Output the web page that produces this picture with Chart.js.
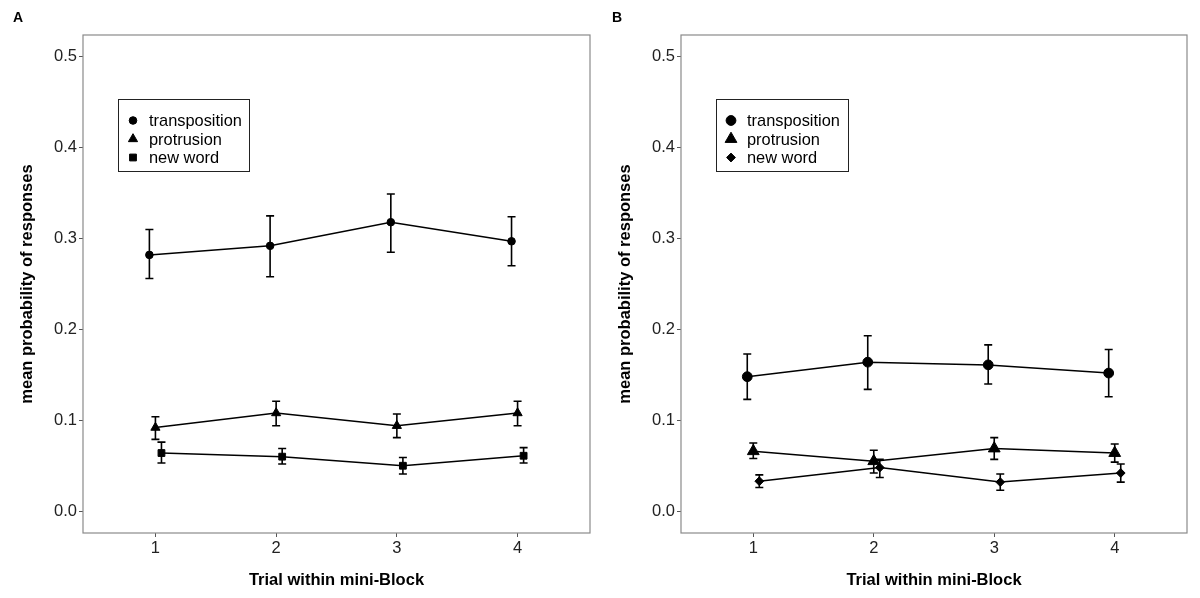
<!DOCTYPE html>
<html>
<head>
<meta charset="utf-8">
<script src="https://cdn.jsdelivr.net/npm/chart.js@4.4.1/dist/chart.umd.min.js"></script>
<style>
  body { margin: 0; background: #fff; }
  #wrapA { position: absolute; left: 0; top: 0; width: 598px; height: 598px; }
  #wrapB { position: absolute; left: 598px; top: 0; width: 602px; height: 598px; }
</style>
</head>
<body>
<div id="wrapA"><canvas id="chartA"></canvas></div>
<div id="wrapB"><canvas id="chartB"></canvas></div>
<script>
var trials = [1, 2, 3, 4];
var seriesNames = ['transposition', 'protrusion', 'new word'];
var yTicks = [0.0, 0.1, 0.2, 0.3, 0.4, 0.5];

// panel A
var aTransMean = [0.282, 0.292, 0.318, 0.297];
var aTransLow  = [0.256, 0.258, 0.285, 0.270];
var aTransHigh = [0.310, 0.325, 0.349, 0.324];
var aProtMean  = [0.092, 0.108, 0.094, 0.108];
var aProtLow   = [0.079, 0.094, 0.081, 0.094];
var aProtHigh  = [0.104, 0.121, 0.107, 0.121];
var aNewMean   = [0.064, 0.060, 0.050, 0.061];
var aNewLow    = [0.053, 0.052, 0.041, 0.053];
var aNewHigh   = [0.076, 0.069, 0.059, 0.070];

// panel B
var bTransMean = [0.148, 0.164, 0.161, 0.152];
var bTransLow  = [0.123, 0.134, 0.140, 0.126];
var bTransHigh = [0.173, 0.193, 0.183, 0.178];
var bProtMean  = [0.066, 0.055, 0.069, 0.064];
var bProtLow   = [0.058, 0.042, 0.057, 0.054];
var bProtHigh  = [0.075, 0.067, 0.081, 0.074];
var bNewMean   = [0.033, 0.048, 0.032, 0.042];
var bNewLow    = [0.026, 0.037, 0.023, 0.032];
var bNewHigh   = [0.040, 0.057, 0.041, 0.052];

var FONT = '"Liberation Sans", Arial, sans-serif';
var dodge = [-0.05, 0, 0.05];

function makeSet(idx, mean, low, high, style, radius) {
    var pts = [];
    for (var i = 0; i < trials.length; i++) {
        pts.push({x: trials[i] + dodge[idx], y: mean[i], low: low[i], high: high[i]});
    }
    return {
        label: seriesNames[idx],
        data: pts,
        borderColor: '#000',
        backgroundColor: '#000',
        borderWidth: 1.5,
        pointStyle: style,
        pointRadius: radius,
        pointBorderWidth: 1,
        pointBackgroundColor: '#000',
        pointBorderColor: '#000',
        tension: 0
    };
}

var errorBars = {
    id: 'errorBars',
    afterDatasetsDraw: function (chart) {
        var ctx = chart.ctx;
        var xs = chart.scales.x, ys = chart.scales.y;
        ctx.save();
        ctx.strokeStyle = '#000';
        ctx.lineWidth = 1.6;
        chart.data.datasets.forEach(function (ds) {
            ds.data.forEach(function (p) {
                var x = xs.getPixelForValue(p.x);
                var y1 = ys.getPixelForValue(p.low);
                var y2 = ys.getPixelForValue(p.high);
                ctx.beginPath();
                ctx.moveTo(x, y1); ctx.lineTo(x, y2);
                ctx.moveTo(x - 4, y1); ctx.lineTo(x + 4, y1);
                ctx.moveTo(x - 4, y2); ctx.lineTo(x + 4, y2);
                ctx.stroke();
            });
        });
        ctx.restore();
    }
};

var frameAndLegend = {
    id: 'frameAndLegend',
    afterDraw: function (chart) {
        var ctx = chart.ctx;
        var a = chart.chartArea;
        var opt = chart.options.plugins.frameAndLegend;
        ctx.save();
        // panel frame
        ctx.strokeStyle = '#8a8a8a';
        ctx.lineWidth = 1.2;
        ctx.strokeRect(a.left, a.top, a.right - a.left, a.bottom - a.top);
        // legend box
        var lx = a.left + 35, ly = a.top + 64, lw = opt.boxW, lh = 72;
        ctx.fillStyle = '#fff';
        ctx.fillRect(lx, ly, lw, lh);
        ctx.strokeStyle = '#222';
        ctx.lineWidth = 1;
        ctx.strokeRect(lx + 0.5, ly + 0.5, lw, lh);
        ctx.font = '16.4px ' + FONT;
        ctx.textBaseline = 'middle';
        ctx.textAlign = 'left';
        chart.data.datasets.forEach(function (ds, i) {
            var cy = ly + 21.5 + i * 18.5;
            ctx.fillStyle = '#000';
            ctx.strokeStyle = '#000';
            Chart.helpers.drawPoint(ctx, {
                pointStyle: ds.pointStyle,
                radius: ds.pointRadius,
                borderWidth: 1,
                rotation: 0
            }, lx + 15, cy);
            ctx.fillStyle = '#000';
            ctx.fillText(ds.label, lx + 31, cy + 1);
        });
        // panel letter
        ctx.font = 'bold 14px ' + FONT;
        ctx.textBaseline = 'middle';
        ctx.fillStyle = '#000';
        ctx.fillText(opt.letter, opt.letterX, 18);
        ctx.restore();
    }
};

function makeChart(id, sets, letter, letterX, rightPad, boxW) {
    return new Chart(document.getElementById(id), {
        type: 'line',
        data: { datasets: sets },
        options: {
            responsive: true,
            maintainAspectRatio: false,
            animation: false,
            layout: { padding: { top: 35, right: rightPad, bottom: 0, left: 0 } },
            plugins: {
                legend: { display: false },
                tooltip: { enabled: false },
                frameAndLegend: { letter: letter, letterX: letterX, boxW: boxW }
            },
            scales: {
                x: {
                    type: 'linear',
                    min: 0.4,
                    max: 4.6,
                    afterFit: function (s) { s.height = 65; },
                    afterBuildTicks: function (s) {
                        s.ticks = trials.map(function (t) { return {value: t}; });
                    },
                    ticks: {
                        color: '#222',
                        font: { family: FONT, size: 16.5 },
                        padding: 2,
                        maxRotation: 0,
                        callback: function (v) { return String(v); }
                    },
                    grid: { drawOnChartArea: false, drawTicks: true, tickLength: 4, color: '#555' },
                    border: { display: false },
                    title: {
                        display: true,
                        text: 'Trial within mini-Block',
                        color: '#000',
                        font: { family: FONT, size: 16.5, weight: 'bold' },
                        padding: { top: 0, bottom: 8 }
                    }
                },
                y: {
                    type: 'linear',
                    min: -0.024,
                    max: 0.524,
                    afterFit: function (s) { s.width = 83; },
                    afterBuildTicks: function (s) {
                        s.ticks = yTicks.map(function (t) { return {value: t}; });
                    },
                    ticks: {
                        color: '#222',
                        font: { family: FONT, size: 16.5 },
                        padding: 2,
                        callback: function (v) { return v.toFixed(1); }
                    },
                    grid: { drawOnChartArea: false, drawTicks: true, tickLength: 4, color: '#555' },
                    border: { display: false },
                    title: {
                        display: true,
                        text: 'mean probability of responses',
                        color: '#000',
                        font: { family: FONT, size: 16.5, weight: 'bold' },
                        padding: { top: 18, bottom: 0 }
                    }
                }
            }
        },
        plugins: [errorBars, frameAndLegend]
    });
}

makeChart('chartA', [
    makeSet(0, aTransMean, aTransLow, aTransHigh, 'circle', 3.8),
    makeSet(1, aProtMean, aProtLow, aProtHigh, 'triangle', 5.3),
    makeSet(2, aNewMean, aNewLow, aNewHigh, 'rect', 4.8)
], 'A', 13, 8, 131);

makeChart('chartB', [
    makeSet(0, bTransMean, bTransLow, bTransHigh, 'circle', 4.9),
    makeSet(1, bProtMean, bProtLow, bProtHigh, 'triangle', 6.8),
    makeSet(2, bNewMean, bNewLow, bNewHigh, 'rectRot', 4.4)
], 'B', 14, 13, 132);
</script>
</body>
</html>
